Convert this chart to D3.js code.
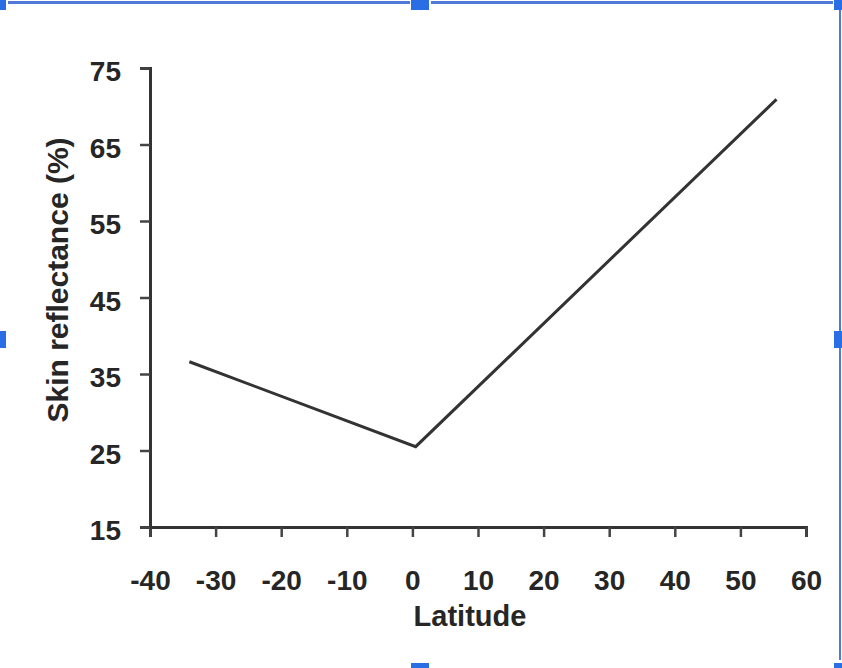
<!DOCTYPE html>
<html>
<head>
<meta charset="utf-8">
<script src="https://cdn.jsdelivr.net/npm/d3@7"></script>
<style>
  body { margin: 0; background: #fff; }
  svg text { font-family: "Liberation Sans", Arial, sans-serif; font-weight: 700; fill: #262626; }
</style>
</head>
<body>
<div class="center"></div>
<script>
// chart data
const latitude = [-34, 0.5, 55.5];
const reflectance = [36.6, 25.5, 70.9];
const xTicks = [-40, -30, -20, -10, 0, 10, 20, 30, 40, 50, 60];
const yTicks = [15, 25, 35, 45, 55, 65, 75];

const W = 842, H = 668;

const svg = d3.select(".center").append("svg")
    .attr("width", W)
    .attr("height", H);

// scales
const xScale = d3.scaleLinear().domain([-40, 60]).range([150, 806]);
const yScale = d3.scaleLinear().domain([15, 75]).range([527, 68]);

// plain hyphen for negatives, like the original figure
const fmt = d => String(d);

// x axis
const xAxis = d3.axisBottom(xScale)
    .tickValues(xTicks)
    .tickSize(10)
    .tickSizeOuter(10)
    .tickPadding(33)
    .tickFormat(fmt);
const gx = svg.append("g")
    .attr("transform", `translate(0,${yScale(15)})`)
    .call(xAxis);

// y axis
const yAxis = d3.axisLeft(yScale)
    .tickValues(yTicks)
    .tickSize(10)
    .tickSizeOuter(10)
    .tickPadding(19)
    .tickFormat(fmt);
const gy = svg.append("g")
    .attr("transform", `translate(${xScale(-40)},0)`)
    .call(yAxis);

[gx, gy].forEach(g => {
    g.select(".domain").attr("stroke", "#333").attr("stroke-width", 3);
    g.selectAll(".tick line").attr("stroke", "#444").attr("stroke-width", 2.5);
    g.selectAll(".tick text")
       .style("font-family", "'Liberation Sans', Arial, sans-serif")
       .style("font-weight", "700")
       .style("font-size", "28px")
       .attr("fill", "#262626");
});
gy.selectAll(".tick text").attr("dy", "0.45em");

// the line
const pts = latitude.map((d, i) => [d, reflectance[i]]);
svg.append("path")
    .datum(pts)
    .attr("fill", "none")
    .attr("stroke", "#333")
    .attr("stroke-width", 3)
    .attr("d", d3.line()
        .x(d => xScale(d[0]))
        .y(d => yScale(d[1])));

// axis titles
svg.append("text")
    .attr("x", 470)
    .attr("y", 626)
    .style("text-anchor", "middle")
    .style("font-size", "29px")
    .text("Latitude");

svg.append("text")
    .attr("transform", "rotate(-90)")
    .attr("x", -280)
    .attr("y", 68)
    .style("text-anchor", "middle")
    .style("font-size", "30px")
    .text("Skin reflectance (%)");

// selection frame round the picture
const blue = "#2a6ee6";
const frame = svg.append("g");
frame.append("rect").attr("x", 8).attr("y", 1).attr("width", 402).attr("height", 3).attr("fill", "#4f7ad8");
frame.append("rect").attr("x", 431).attr("y", 1).attr("width", 402).attr("height", 3).attr("fill", "#4f7ad8");
frame.append("rect").attr("x", 839).attr("y", 8).attr("width", 2).attr("height", 652).attr("fill", "#4f7ad8");
const handles = [
    [0, 0, 6, 10], [411, 0, 18, 10], [834, 0, 8, 10],
    [0, 331, 6, 17], [834, 331, 8, 17],
    [411, 663, 18, 5], [834, 663, 8, 5]
];
frame.selectAll("rect.handle")
    .data(handles)
    .enter().append("rect")
    .attr("class", "handle")
    .attr("x", d => d[0])
    .attr("y", d => d[1])
    .attr("width", d => d[2])
    .attr("height", d => d[3])
    .attr("fill", blue);
</script>
</body>
</html>
